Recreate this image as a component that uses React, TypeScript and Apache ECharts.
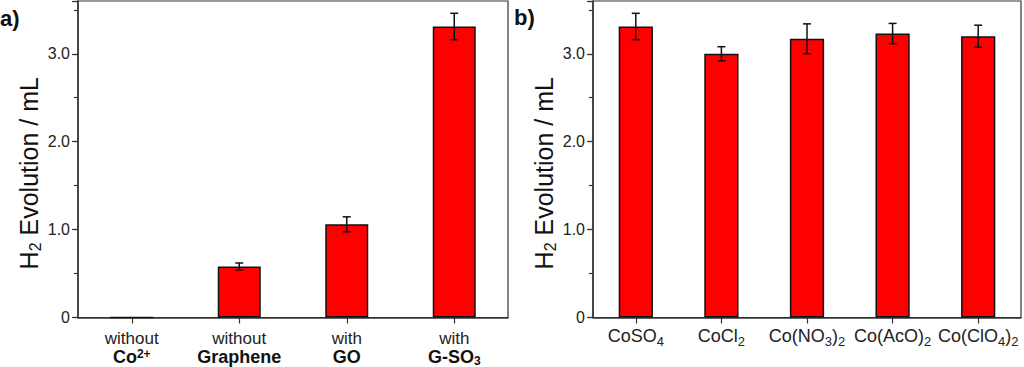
import React, { useEffect, useRef } from 'react';
import * as echarts from 'echarts';

// ---- data ----
const categoriesA = ['without Co2+', 'without Graphene', 'with GO', 'with G-SO3'];
const labelsA = [
  '{r|without}\n{b|Co}{bsup|2+}',
  '{r|without}\n{b|Graphene}',
  '{r|with}\n{b|GO}',
  '{r|with}\n{b|G-SO}{bsub|3}',
];
const valuesA = [0, 0.58, 1.06, 3.31];
const errorsA = [0, 0.04, 0.085, 0.15];

const categoriesB = ['CoSO4', 'CoCl2', 'Co(NO3)2', 'Co(AcO)2', 'Co(ClO4)2'];
const labelsB = [
  '{c|CoSO}{csub|4}',
  '{c|CoCl}{csub|2}',
  '{c|Co(NO}{csub|3}{c|)}{csub|2}',
  '{c|Co(AcO)}{csub|2}',
  '{c|Co(ClO}{csub|4}{c|)}{csub|2}',
];
const valuesB = [3.31, 3.0, 3.17, 3.23, 3.2];
const errorsB = [0.15, 0.08, 0.17, 0.115, 0.125];

const yMax = 3.6;
const yMajorInterval = 1;
const yMinorInterval = 0.5;
const yAxisName = 'H{s|2} Evolution / mL';

const FONT = '"Liberation Sans", Arial, Helvetica, sans-serif';
const TEXT = '#222';
const AXIS = '#333';

const richX: any = {
  r: { fontFamily: FONT, fontSize: 17, color: TEXT, lineHeight: 19 },
  b: { fontFamily: FONT, fontSize: 18, fontWeight: 'bold', color: '#111', lineHeight: 19 },
  bsub: { fontFamily: FONT, fontSize: 12, fontWeight: 'bold', color: '#111', lineHeight: 10, verticalAlign: 'bottom' },
  bsup: { fontFamily: FONT, fontSize: 12, fontWeight: 'bold', color: '#111', lineHeight: 10, verticalAlign: 'top' },
  c: { fontFamily: FONT, fontSize: 18, color: TEXT, lineHeight: 24 },
  csub: { fontFamily: FONT, fontSize: 13, color: TEXT, lineHeight: 14, verticalAlign: 'bottom' },
};

function makeYAxes(gridIndex: number) {
  return [
    {
      gridIndex,
      type: 'value',
      min: 0,
      max: yMax,
      interval: yMajorInterval,
      name: yAxisName,
      nameLocation: 'middle',
      nameGap: 30,
      nameTextStyle: {
        fontFamily: FONT,
        fontSize: 25,
        color: '#111',
        lineHeight: 30,
        padding: [0, 28, 0, 0],
        rich: {
          s: { fontFamily: FONT, fontSize: 16, color: '#111', lineHeight: 16, verticalAlign: 'bottom' },
        },
      },
      axisLine: { show: true, lineStyle: { color: AXIS, width: 1.5 } },
      axisTick: { show: true, length: 6, lineStyle: { color: AXIS, width: 1.2 } },
      splitLine: { show: false },
      axisLabel: {
        fontFamily: FONT,
        fontSize: 16,
        color: TEXT,
        margin: 8,
        formatter: (v: number) => (v === 0 ? '0' : Math.abs(v - Math.round(v)) < 1e-9 ? v.toFixed(1) : ''),
      },
    },
    {
      gridIndex,
      type: 'value',
      min: 0,
      max: yMax,
      interval: yMinorInterval,
      position: 'left',
      axisLine: { show: false },
      axisTick: { show: true, length: 4, lineStyle: { color: AXIS, width: 1.2 } },
      axisLabel: { show: false },
      splitLine: { show: false },
    },
  ];
}

function makeXAxis(gridIndex: number, cats: string[], labels: string[], margin: number, lineHeight: number) {
  return {
    gridIndex,
    type: 'category',
    data: cats,
    axisLine: { show: true, lineStyle: { color: AXIS, width: 1.5 } },
    axisTick: { show: true, alignWithLabel: true, length: 6, lineStyle: { color: AXIS, width: 1.2 } },
    axisLabel: {
      interval: 0,
      margin,
      fontFamily: FONT,
      fontSize: 17,
      color: TEXT,
      lineHeight,
      formatter: (_v: string, i: number) => labels[i],
      rich: richX,
    },
    splitLine: { show: false },
  };
}

function barSeries(idx: number, values: number[]) {
  return {
    type: 'bar',
    xAxisIndex: idx,
    yAxisIndex: idx * 2,
    data: values,
    barWidth: '40%',
    itemStyle: { color: '#ff0000', borderColor: '#111', borderWidth: 1.5 },
    z: 2,
  };
}

function errorSeries(idx: number, values: number[], errors: number[]) {
  return {
    type: 'custom',
    xAxisIndex: idx,
    yAxisIndex: idx * 2,
    z: 5,
    data: values.map((v, i) => [i, v - errors[i], v + errors[i]]),
    encode: { x: 0, y: [1, 2] },
    renderItem: (_params: any, api: any) => {
      const x = api.value(0);
      const lo = api.value(1);
      const hi = api.value(2);
      if (Math.abs(hi - lo) < 1e-9) return null;
      const pLo = api.coord([x, lo]);
      const pHi = api.coord([x, hi]);
      const hw = 4;
      const st = { stroke: '#111', lineWidth: 1.5 };
      return {
        type: 'group',
        children: [
          { type: 'line', shape: { x1: pLo[0], y1: pLo[1], x2: pHi[0], y2: pHi[1] }, style: st },
          { type: 'line', shape: { x1: pLo[0] - hw, y1: pLo[1], x2: pLo[0] + hw, y2: pLo[1] }, style: st },
          { type: 'line', shape: { x1: pHi[0] - hw, y1: pHi[1], x2: pHi[0] + hw, y2: pHi[1] }, style: st },
        ],
      };
    },
  };
}

export default function App() {
  const ref = useRef<HTMLDivElement>(null);

  useEffect(() => {
    if (!ref.current) return;
    const chart = echarts.init(ref.current, undefined, { renderer: 'svg' });
    const gridBox = {
      show: true,
      borderColor: AXIS,
      borderWidth: 1.2,
      backgroundColor: 'transparent',
      containLabel: false,
      outerBoundsMode: 'none',
    };
    chart.setOption({
      animation: false,
      backgroundColor: '#fff',
      grid: [
        { left: 78, top: 1, width: 430, height: 316.5, ...gridBox },
        { left: 593, top: 1, width: 428, height: 316.5, ...gridBox },
      ],
      xAxis: [makeXAxis(0, categoriesA, labelsA, 11, 19), makeXAxis(1, categoriesB, labelsB, 6, 24)],
      yAxis: [...makeYAxes(0), ...makeYAxes(1)],
      series: [
        barSeries(0, valuesA),
        errorSeries(0, valuesA, errorsA),
        barSeries(1, valuesB),
        errorSeries(1, valuesB, errorsB),
      ],
      graphic: [
        { type: 'text', left: 0, top: 7, style: { text: 'a)', font: `bold 22px ${FONT}`, fill: '#111' } },
        { type: 'text', left: 514, top: 6, style: { text: 'b)', font: `bold 22px ${FONT}`, fill: '#111' } },
      ],
    });
    return () => chart.dispose();
  }, []);

  return (
    <div
      ref={ref}
      style={{ position: 'fixed', left: 0, top: 0, width: 1024, height: 367, background: '#fff' }}
    />
  );
}
